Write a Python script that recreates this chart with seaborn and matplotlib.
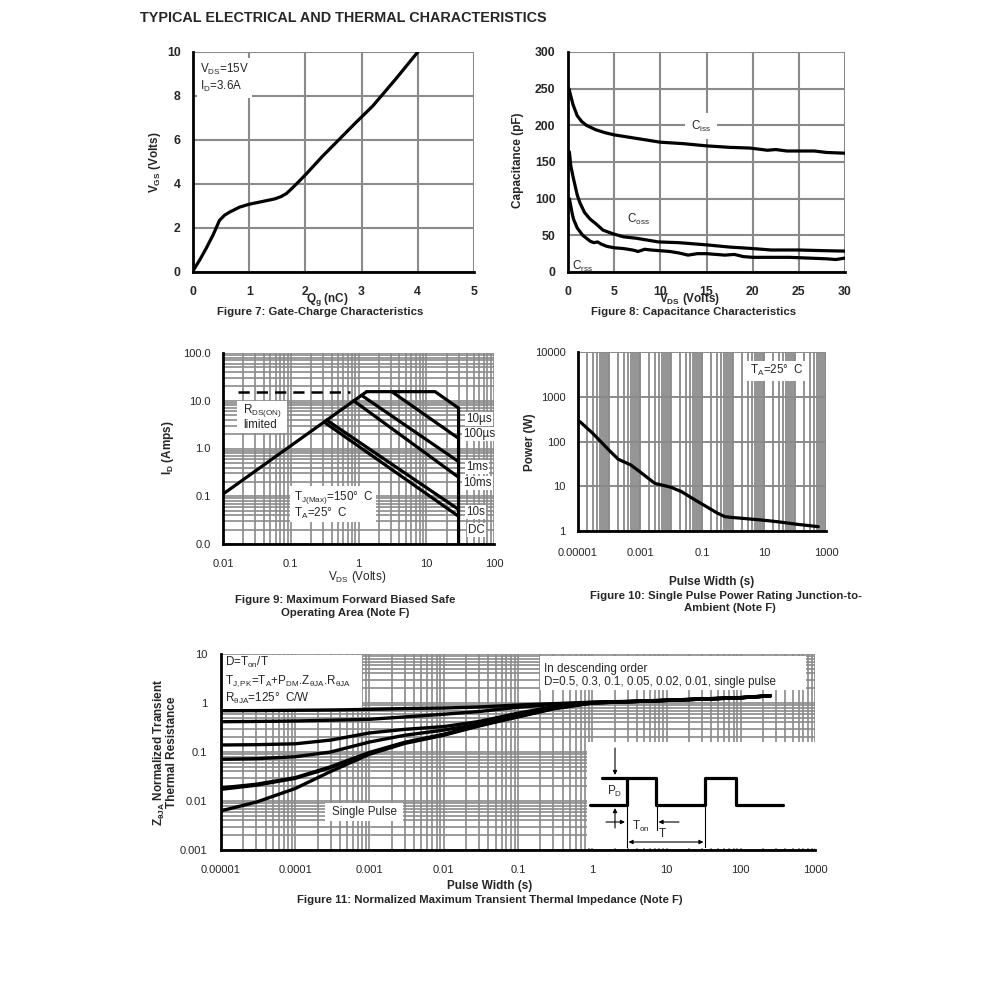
import matplotlib
matplotlib.use("Agg")
import matplotlib.pyplot as plt
from matplotlib.patches import Rectangle
from matplotlib.ticker import LogLocator, NullFormatter
import seaborn as sns

# ---------------- data ----------------
# Figure 7: gate charge
qg_nc = [0.0, 0.12, 0.24, 0.36, 0.47, 0.56, 0.65, 0.83, 1.0, 1.15, 1.3, 1.45, 1.56, 1.66,
         1.76, 1.84, 2.02, 2.3, 2.61, 2.9, 3.2, 3.6, 4.0]
vgs_v = [0.05, 0.55, 1.1, 1.7, 2.34, 2.58, 2.72, 2.95, 3.08, 3.16, 3.24, 3.32, 3.42, 3.56,
         3.8, 4.0, 4.47, 5.25, 6.05, 6.8, 7.55, 8.75, 10.0]

# Figure 8: capacitance vs VDS
ciss_v = [0.1, 0.3, 0.55, 1.0, 1.5, 2.0, 3, 4, 5, 7, 10, 12.5, 15, 17.5, 19.7, 21, 21.6,
          22.5, 23.7, 25, 26.7, 28, 30]
ciss_pf = [250, 240, 228, 213, 205, 200, 194, 190, 187, 183, 177, 175, 172, 170, 169, 167,
           166, 167, 165, 165, 165, 163, 162]
coss_v = [0.15, 0.3, 0.58, 1.0, 1.3, 1.8, 2.4, 3.0, 3.8, 4.9, 6, 7.4, 9.8, 12, 15, 17.5,
          20, 22, 25, 28, 30]
coss_pf = [164, 145, 128, 105, 94, 81, 72, 66, 57, 52, 48, 46, 41, 40, 37, 34, 32, 30, 30,
           29, 28.5]
crss_v = [0.15, 0.3, 0.45, 0.6, 0.8, 1.0, 1.3, 1.6, 2.0, 2.4, 2.8, 3.2, 3.6, 4.2, 5, 6, 7,
          7.6, 8.3, 9, 10, 11, 12, 13, 14, 15, 16, 17, 18, 19, 20, 22, 24, 26, 28, 29, 30]
crss_pf = [100, 90, 80, 72, 66, 60, 55, 50, 46, 42, 40, 41, 38, 35, 33, 32, 30, 28, 31, 30,
           29, 28, 26, 23, 25, 25, 24, 23, 24, 21, 20, 20, 20, 19, 18, 17, 19]

# Figure 9: safe operating area segments (VDS in V, ID in A)
soa_rds_v, soa_rds_a = [0.01, 1.32], [0.111, 15.5]
soa_dash_v, soa_dash_a = [0.0168, 0.75], [15.5, 15.5]
soa_10us_v, soa_10us_a = [1.32, 13.5, 30, 30], [15.5, 15.5, 7.0, 0.01]
soa_100us_v, soa_100us_a = [3.1, 30], [15.5, 1.63]
soa_1ms_v, soa_1ms_a = [1.11, 30], [13.0, 0.53]
soa_10ms_v, soa_10ms_a = [0.85, 30], [10.0, 0.25]
soa_10s_v, soa_10s_a = [0.34, 30], [3.93, 0.053]
soa_dc_v, soa_dc_a = [0.31, 30], [3.58, 0.038]
soa_ticks = [0.01, 0.1, 1, 10, 100]
soa_ylabels = ["0.0", "0.1", "1.0", "10.0", "100.0"]
soa_xlabels = ["0.01", "0.1", "1", "10", "100"]

# Figure 10: single pulse power
pulse_s = [1.16e-5, 3e-5, 1e-4, 2e-4, 5e-4, 1e-3, 3e-3, 1e-2, 2.2e-2, 6e-2, 0.15, 0.3,
           0.55, 1, 8.4, 30, 100, 565]
power_w = [277, 152, 64, 40, 30, 21, 11.6, 9.5, 7.55, 4.93, 3.4, 2.55, 2.09, 2.0, 1.76,
           1.6, 1.43, 1.25]
pw_xticks = [1e-5, 1e-3, 1e-1, 10, 1000]
pw_xlabels = ["0.00001", "0.001", "0.1", "10", "1000"]
pw_yticks = [1, 10, 100, 1000, 10000]

# Figure 11: normalized transient thermal impedance
zt_s = [1e-5, 3e-5, 1e-4, 3e-4, 1e-3, 3e-3, 1e-2, 3e-2, 0.1, 0.3, 1, 3, 10, 30, 100, 250]
zt_curves = {
    "0.5":    [0.696, 0.70, 0.71, 0.72, 0.74, 0.77, 0.79, 0.83, 0.91, 0.97, 1.04, 1.08, 1.14, 1.21, 1.29, 1.41],
    "0.3":    [0.415, 0.42, 0.43, 0.445, 0.465, 0.52, 0.59, 0.67, 0.82, 0.93, 1.03, 1.07, 1.14, 1.21, 1.29, 1.41],
    "0.1":    [0.139, 0.141, 0.147, 0.175, 0.245, 0.29, 0.33, 0.42, 0.62, 0.84, 1.02, 1.07, 1.13, 1.20, 1.28, 1.40],
    "0.05":   [0.071, 0.073, 0.080, 0.10, 0.16, 0.22, 0.28, 0.37, 0.56, 0.80, 1.01, 1.06, 1.13, 1.20, 1.28, 1.40],
    "0.02":   [0.0185, 0.022, 0.030, 0.050, 0.098, 0.158, 0.23, 0.355, 0.54, 0.78, 1.01, 1.06, 1.13, 1.20, 1.28, 1.40],
    "0.01":   [0.0173, 0.021, 0.029, 0.048, 0.095, 0.155, 0.225, 0.35, 0.53, 0.77, 1.00, 1.06, 1.13, 1.20, 1.28, 1.40],
    "single": [0.0063, 0.0095, 0.018, 0.040, 0.090, 0.15, 0.22, 0.34, 0.52, 0.76, 1.00, 1.06, 1.13, 1.20, 1.28, 1.40],
}
zt_xticks = [1e-5, 1e-4, 1e-3, 1e-2, 0.1, 1, 10, 100, 1000]
zt_xlabels = ["0.00001", "0.0001", "0.001", "0.01", "0.1", "1", "10", "100", "1000"]
zt_yticks = [0.001, 0.01, 0.1, 1, 10]
zt_ylabels = ["0.001", "0.01", "0.1", "1", "10"]

# ---------------- style ----------------
sns.set_style("white")
plt.rcParams["font.family"] = ["Liberation Sans", "DejaVu Sans"]
plt.rcParams["mathtext.fontset"] = "custom"
plt.rcParams["mathtext.rm"] = "Liberation Sans"
plt.rcParams["mathtext.bf"] = "Liberation Sans:bold"
plt.rcParams["mathtext.it"] = "Liberation Sans:italic"
plt.rcParams["axes.axisbelow"] = True

W, H = 991, 998
GRID = "#8a8a8a"
LAB = 8.5    # axis label size
CAP = 8.2    # caption size
TXT = 8.4    # in-plot note size
fig = plt.figure(figsize=(W / 100, H / 100), dpi=100)


def add_ax(x0, y0, x1, y1):
    return fig.add_axes([x0 / W, 1 - y1 / H, (x1 - x0) / W, (y1 - y0) / H])


def ftext(x, y, s, size=TXT, bold=False, **kw):
    kw.setdefault("ha", "center")
    kw.setdefault("va", "center")
    return fig.text(x / W, 1 - y / H, s, fontsize=size,
                    fontweight="bold" if bold else "normal", **kw)


def base(ax, xpad=10, ypad=9, size=8):
    sns.despine(ax=ax)
    for s in ("left", "bottom"):
        ax.spines[s].set_linewidth(2)
        ax.spines[s].set_color("k")
        ax.spines[s].set_zorder(5)
    ax.tick_params(which="both", length=0, labelsize=size)
    ax.tick_params(axis="x", pad=xpad)
    ax.tick_params(axis="y", pad=ypad)


def curve(ax, x, y, lw=2.0, **kw):
    sns.lineplot(x=x, y=y, ax=ax, color="k", linewidth=lw, estimator=None,
                 sort=False, **kw)


def wbox(ax, x0, y0, x1, y1):
    ax.add_patch(Rectangle((x0 / W, 1 - y1 / H), (x1 - x0) / W, (y1 - y0) / H,
                           transform=fig.transFigure, facecolor="white",
                           edgecolor="none", zorder=1))


ftext(140, 18, "TYPICAL ELECTRICAL AND THERMAL CHARACTERISTICS", size=10.4,
      bold=True, ha="left")

# ---------------- Figure 7 ----------------
ax7 = add_ax(193, 52, 474, 272)
curve(ax7, qg_nc, vgs_v, lw=2.3)
ax7.set_xlim(0, 5)
ax7.set_ylim(0, 10)
ax7.set_xticks(range(0, 6), [str(v) for v in range(0, 6)], fontweight="bold")
ax7.set_yticks(range(0, 11, 2), [str(v) for v in range(0, 11, 2)], fontweight="bold")
ax7.grid(True, color=GRID, lw=1.5)
base(ax7, size=8.8)
ax7.set_xlabel("")
ax7.set_ylabel("")
ax7.text(0.025, 0.955, "V$_{\\mathrm{DS}}$=15V\nI$_{\\mathrm{D}}$=3.6A", transform=ax7.transAxes,
         fontsize=TXT, va="top", ha="left", linespacing=1.2,
         bbox=dict(facecolor="white", edgecolor="none", pad=2.5))
ftext(155, 162, "V$_{\\mathbf{GS}}$ (Volts)", size=LAB, bold=True, rotation=90)
ftext(327, 299, "Q$_{\\mathbf{g}}$ (nC)", size=LAB, bold=True)
ftext(320, 312, "Figure 7: Gate-Charge Characteristics", size=CAP, bold=True)

# ---------------- Figure 8 ----------------
ax8 = add_ax(568, 52, 845, 272)
curve(ax8, ciss_v, ciss_pf, lw=2.3)
curve(ax8, coss_v, coss_pf, lw=2.3)
curve(ax8, crss_v, crss_pf, lw=2.3)
ax8.set_xlim(0, 30)
ax8.set_ylim(0, 300)
ax8.set_xticks(range(0, 31, 5), [str(v) for v in range(0, 31, 5)], fontweight="bold")
ax8.set_yticks(range(0, 301, 50), [str(v) for v in range(0, 301, 50)], fontweight="bold")
ax8.grid(True, color=GRID, lw=1.5)
base(ax8, size=8.8)
ax8.set_xlabel("")
ax8.set_ylabel("")
ftext(701, 126, "C$_{\\mathrm{iss}}$", bbox=dict(facecolor="white", edgecolor="none", pad=4))
ftext(638, 219, "C$_{\\mathrm{oss}}$")
ftext(583, 266, "C$_{\\mathrm{rss}}$")
ftext(518, 160, "Capacitance (pF)", size=LAB, bold=True, rotation=90)
ftext(690, 299, "V$_{\\mathbf{DS}}$ (Volts)", size=LAB, bold=True)
ftext(694, 312, "Figure 8: Capacitance Characteristics", size=CAP, bold=True)

# ---------------- Figure 9 ----------------
ax9 = add_ax(223, 353, 494, 544)
ax9.set_xscale("log")
ax9.set_yscale("log")
ax9.set_xlim(0.01, 100)
ax9.set_ylim(0.01, 100)
curve(ax9, soa_rds_v, soa_rds_a, lw=2.3)
curve(ax9, soa_dash_v, soa_dash_a, lw=1.8, linestyle=(0, (4.5, 2.8)))
for vv, aa in [(soa_10us_v, soa_10us_a), (soa_100us_v, soa_100us_a),
               (soa_1ms_v, soa_1ms_a), (soa_10ms_v, soa_10ms_a),
               (soa_10s_v, soa_10s_a), (soa_dc_v, soa_dc_a)]:
    curve(ax9, vv, aa, lw=2.3)
ax9.set_xticks(soa_ticks, soa_xlabels)
ax9.set_yticks(soa_ticks, soa_ylabels)
for a in (ax9.xaxis, ax9.yaxis):
    a.set_minor_locator(LogLocator(base=10, subs=range(2, 10), numticks=100))
    a.set_minor_formatter(NullFormatter())
ax9.grid(True, which="both", color=GRID, lw=1.2)
base(ax9, xpad=11)
ax9.set_xlabel("")
ax9.set_ylabel("")
wbox(ax9, 237, 401, 287, 433)
ftext(243, 410, "R$_{\\mathrm{DS(ON)}}$", ha="left")
ftext(243, 425, "limited", ha="left")
for lab, yy, xx in [("10\u00b5s", 419, 466), ("100\u00b5s", 434, 463), ("1ms", 467, 466),
                    ("10ms", 483, 463), ("10s", 512, 466), ("DC", 530, 468)]:
    ftext(xx, yy, lab, ha="left", bbox=dict(facecolor="white", edgecolor="none", pad=1))
wbox(ax9, 290, 486, 376, 522)
ftext(294, 497, "T$_{\\mathrm{J(Max)}}$=150\u00b0  C", ha="left")
ftext(294, 513, "T$_{\\mathrm{A}}$=25\u00b0  C", ha="left")
ftext(168, 448, "I$_{\\mathbf{D}}$ (Amps)", size=LAB, bold=True, rotation=90)
ftext(357, 577, "V$_{\\mathrm{DS}}$ (Volts)", size=LAB)
ftext(345, 600, "Figure 9: Maximum Forward Biased Safe", size=CAP, bold=True)
ftext(345, 613, "Operating Area (Note F)", size=CAP, bold=True)

# ---------------- Figure 10 ----------------
ax10 = add_ax(578, 352, 826, 531)
ax10.set_xscale("log")
ax10.set_yscale("log")
ax10.set_xlim(1e-5, 1000)
ax10.set_ylim(1, 10000)
curve(ax10, pulse_s, power_w, lw=2.3)
ax10.set_xticks(pw_xticks, pw_xlabels)
ax10.set_yticks(pw_yticks, [str(v) for v in pw_yticks])
ax10.xaxis.set_minor_locator(LogLocator(base=10, subs=range(1, 10), numticks=100))
ax10.xaxis.set_minor_formatter(NullFormatter())
ax10.yaxis.set_minor_formatter(NullFormatter())
ax10.grid(True, which="minor", axis="x", color=GRID, lw=1.3)
ax10.grid(True, which="major", axis="both", color=GRID, lw=1.4)
base(ax10, xpad=12)
ax10.set_xlabel("")
ax10.set_ylabel("")
wbox(ax10, 745, 361, 806, 381)
ftext(750, 370, "T$_{\\mathrm{A}}$=25\u00b0  C", ha="left")
ftext(530, 442, "Power (W)", size=LAB, bold=True, rotation=90)
ftext(712, 582, "Pulse Width (s)", size=LAB, bold=True)
ftext(726, 596, "Figure 10: Single Pulse Power Rating Junction-to-", size=CAP, bold=True)
ftext(730, 608, "Ambient (Note F)", size=CAP, bold=True)

# ---------------- Figure 11 ----------------
ax11 = add_ax(221, 654, 815, 850)
ax11.set_xscale("log")
ax11.set_yscale("log")
ax11.set_xlim(1e-5, 1000)
ax11.set_ylim(0.001, 10)
for name, vals in zt_curves.items():
    curve(ax11, zt_s, vals, lw=2.4)
ax11.set_xticks(zt_xticks, zt_xlabels)
ax11.set_yticks(zt_yticks, zt_ylabels)
for a in (ax11.xaxis, ax11.yaxis):
    a.set_minor_locator(LogLocator(base=10, subs=range(2, 10), numticks=100))
    a.set_minor_formatter(NullFormatter())
ax11.grid(True, which="both", color=GRID, lw=1.2)
base(ax11, xpad=11, ypad=10)
ax11.set_xlabel("")
ax11.set_ylabel("")
wbox(ax11, 221, 655, 362, 709)
ftext(225, 662, "D=T$_{\\mathrm{on}}$/T", ha="left")
ftext(225, 681, "T$_{\\mathrm{J,PK}}$=T$_{\\mathrm{A}}$+P$_{\\mathrm{DM}}$.Z$_{\\mathrm{\u03b8JA}}$.R$_{\\mathrm{\u03b8JA}}$",
      ha="left")
ftext(225, 698, "R$_{\\mathrm{\u03b8JA}}$=125\u00b0  C/W", ha="left")
wbox(ax11, 540, 656, 806, 690)
ftext(544, 669, "In descending order", ha="left")
ftext(544, 682, "D=0.5, 0.3, 0.1, 0.05, 0.02, 0.01, single pulse", ha="left")
wbox(ax11, 325, 803, 403, 821)
ftext(364, 812, "Single Pulse")
ftext(165, 752, "Z$_{\\mathbf{\u03b8JA}}$ Normalized Transient\nThermal Resistance", size=LAB,
      bold=True, rotation=90, linespacing=0.95)
ftext(490, 886, "Pulse Width (s)", size=LAB, bold=True)
ftext(490, 900, "Figure 11: Normalized Maximum Transient Thermal Impedance (Note F)",
      size=CAP, bold=True)

# duty-cycle pulse diagram inset (schematic, pixel units)
axp = add_ax(587, 742, 815, 848)
axp.set_xlim(587, 815)
axp.set_ylim(848, 742)
axp.set_xticks([])
axp.set_yticks([])
for s in axp.spines.values():
    s.set_visible(False)
axp.plot([590, 626.7, 626.7, 656, 656, 705, 705, 735.7, 735.7, 783.3],
         [805, 805, 777.7, 777.7, 805, 805, 777.7, 777.7, 805, 805], color="k", lw=2.3)
axp.plot([601.7, 626.7], [777.7, 777.7], color="k", lw=2.3)
axp.plot([626.7, 626.7], [805, 848], color="k", lw=0.8)
axp.plot([705, 705], [805, 848], color="k", lw=0.8)
axp.plot([656.5, 656.5], [805, 830], color="k", lw=0.8)
arr = dict(arrowstyle="-|>", lw=0.8, color="k", mutation_scale=6, shrinkA=0, shrinkB=0)
axp.annotate("", xy=(615, 775), xytext=(615, 748), arrowprops=arr)
axp.annotate("", xy=(615, 808), xytext=(615, 828), arrowprops=arr)
axp.annotate("", xy=(625, 822), xytext=(606, 822), arrowprops=arr)
axp.annotate("", xy=(658.5, 822), xytext=(679, 822), arrowprops=arr)
axp.annotate("", xy=(628.5, 842), xytext=(703.5, 842),
             arrowprops=dict(arrowstyle="<|-|>", lw=0.8, color="k", mutation_scale=6,
                             shrinkA=0, shrinkB=0))
axp.text(615, 791, "P$_{\\mathrm{D}}$", fontsize=TXT, ha="center", va="center")
axp.text(641, 826, "T$_{\\mathrm{on}}$", fontsize=TXT, ha="center", va="center")
axp.text(662, 834, "T", fontsize=TXT, ha="center", va="center")

fig.savefig("out.png", dpi=100)
